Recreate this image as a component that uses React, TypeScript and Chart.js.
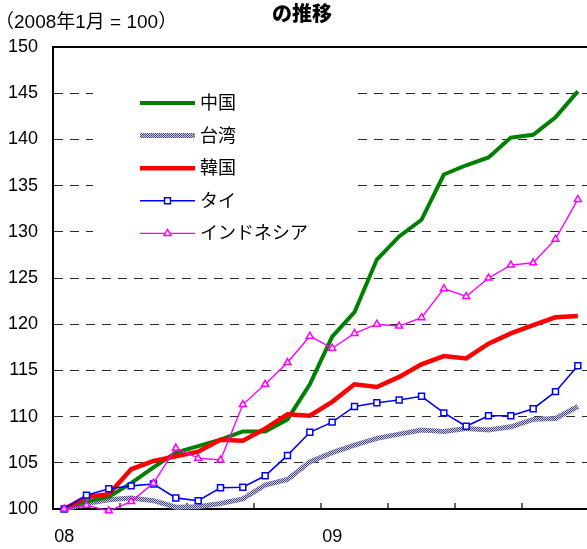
import React, { useEffect, useRef } from 'react';
import { Chart, registerables } from 'chart.js';

Chart.register(...registerables);

const months = [
  '2008/01', '2008/02', '2008/03', '2008/04', '2008/05', '2008/06',
  '2008/07', '2008/08', '2008/09', '2008/10', '2008/11', '2008/12',
  '2009/01', '2009/02', '2009/03', '2009/04', '2009/05', '2009/06',
  '2009/07', '2009/08', '2009/09', '2009/10', '2009/11', '2009/12',
];
const xTickLabels = ['08', '', '', '', '', '', '', '', '', '', '', '', '09', '', '', '', '', '', '', '', '', '', '', ''];
const yMin = 100;
const yMax = 150;
const yStep = 5;

const titleText = 'の推移';
const subtitleText = '（2008年1月 = 100）';
const seriesNames = ['中国', '台湾', '韓国', 'タイ', 'インドネシア'];

const china = [100, 100.8, 101.3, 102.8, 104.5, 106.1, 106.8, 107.5, 108.4, 108.4, 109.7, 113.5, 118.65, 121.3, 127.0, 129.5, 131.3, 136.2, 137.2, 138.05, 140.2, 140.5, 142.4, 145.2];
const taiwan = [100, 100.6, 101.0, 101.2, 100.9, 100.2, 100.25, 100.6, 101.1, 102.6, 103.2, 105.1, 106.1, 106.9, 107.65, 108.1, 108.55, 108.4, 108.7, 108.55, 108.9, 109.7, 109.8, 111.1];
const korea = [100, 101.3, 101.6, 104.3, 105.2, 105.7, 106.2, 107.5, 107.4, 108.7, 110.25, 110.1, 111.6, 113.5, 113.2, 114.3, 115.65, 116.55, 116.3, 117.9, 119.0, 119.9, 120.75, 120.9];
const thailand = [100, 101.5, 102.2, 102.5, 102.7, 101.2, 100.9, 102.3, 102.35, 103.6, 105.8, 108.3, 109.4, 111.1, 111.5, 111.8, 112.2, 110.4, 108.95, 110.1, 110.1, 110.85, 112.7, 115.5];
const indonesia = [100, 100.4, 99.8, 100.8, 102.8, 106.6, 105.5, 105.3, 111.3, 113.5, 115.85, 118.7, 117.4, 119.0, 120.0, 119.8, 120.7, 123.85, 123.0, 125.0, 126.4, 126.65, 129.2, 133.5];

const FONT = '"Liberation Sans", Arial, "Noto Sans CJK JP", sans-serif';
const CJK = '"Liberation Sans", "Noto Sans CJK JP", sans-serif';

function makePattern(ctx: CanvasRenderingContext2D) {
  const pc = document.createElement('canvas');
  pc.width = 2;
  pc.height = 2;
  const p = pc.getContext('2d')!;
  p.fillStyle = '#cdcde4';
  p.fillRect(0, 0, 2, 2);
  p.fillStyle = '#464684';
  p.fillRect(0, 0, 1, 1);
  p.fillRect(1, 1, 1, 1);
  return ctx.createPattern(pc, 'repeat') as CanvasPattern;
}

function drawMarker(ctx: CanvasRenderingContext2D, style: string, x: number, y: number, r: number, color: string) {
  ctx.save();
  ctx.strokeStyle = color;
  ctx.fillStyle = '#fff';
  ctx.lineWidth = 1.5;
  ctx.beginPath();
  if (style === 'rect') {
    const s = Math.SQRT1_2 * r;
    ctx.rect(x - s, y - s, 2 * s, 2 * s);
  } else if (style === 'triangle') {
    ctx.moveTo(x, y - r);
    ctx.lineTo(x - r * 0.866, y + r * 0.5);
    ctx.lineTo(x + r * 0.866, y + r * 0.5);
    ctx.closePath();
  }
  ctx.fill();
  ctx.stroke();
  ctx.restore();
}

export default function App() {
  const ref = useRef<HTMLCanvasElement | null>(null);

  useEffect(() => {
    const canvas = ref.current!;
    const ctx0 = canvas.getContext('2d')!;
    const pattern = makePattern(ctx0);

    const legendItems = [
      { label: seriesNames[0], color: '#008000', width: 4, marker: '' },
      { label: seriesNames[1], color: pattern as any, width: 5, marker: '' },
      { label: seriesNames[2], color: '#ff0000', width: 4.5, marker: '' },
      { label: seriesNames[3], color: '#0000ff', width: 1.6, marker: 'rect' },
      { label: seriesNames[4], color: '#ff00ff', width: 1.4, marker: 'triangle' },
    ];

    const decor = {
      id: 'decor',
      beforeDatasetsDraw(chart: any) {
        const { ctx, chartArea } = chart;
        ctx.save();
        ctx.fillStyle = '#fff';
        ctx.fillRect(chartArea.left + 40, chartArea.top + 30, 259, 167);
        ctx.strokeStyle = '#000';
        ctx.lineWidth = 2;
        ctx.beginPath();
        ctx.moveTo(chartArea.left, chartArea.top);
        ctx.lineTo(chartArea.right, chartArea.top);
        ctx.stroke();
        const xs = chart.scales.x;
        ctx.lineWidth = 1.2;
        for (let k = 3; k < months.length; k += 3) {
          const xp = (xs.getPixelForValue(k - 1) + xs.getPixelForValue(k)) / 2;
          ctx.beginPath();
          ctx.moveTo(xp, chartArea.bottom);
          ctx.lineTo(xp, chartArea.bottom - 6);
          ctx.stroke();
        }
        ctx.restore();
      },
      afterDraw(chart: any) {
        const { ctx, chartArea } = chart;
        ctx.save();
        ctx.fillStyle = '#000';
        ctx.textBaseline = 'middle';
        ctx.textAlign = 'center';
        ctx.font = `900 20px "Noto Sans CJK JP", sans-serif`;
        ctx.fillText(titleText, 302, 13);
        ctx.textAlign = 'left';
        ctx.font = `19px ${CJK}`;
        ctx.fillText(subtitleText, -5, 23);
        const x0 = chartArea.left + 87;
        const x1 = chartArea.left + 142;
        const y0 = chartArea.top + 56;
        const dy = 32.6;
        legendItems.forEach((it, i) => {
          const y = y0 + i * dy;
          ctx.save();
          ctx.strokeStyle = it.color;
          ctx.lineWidth = it.width;
          ctx.lineCap = 'butt';
          ctx.beginPath();
          ctx.moveTo(x0, y);
          ctx.lineTo(x1, y);
          ctx.stroke();
          ctx.restore();
          if (it.marker) drawMarker(ctx, it.marker, (x0 + x1) / 2, y, it.marker === 'rect' ? 4.2 : 4, it.color);
          ctx.fillStyle = '#000';
          ctx.font = `18px ${CJK}`;
          ctx.textAlign = 'left';
          ctx.textBaseline = 'middle';
          ctx.fillText(it.label, x1 + 5, y + 1);
        });
        ctx.restore();
      },
    };

    const chart = new Chart(canvas, {
      type: 'line',
      data: {
        labels: months,
        datasets: [
          {
            label: seriesNames[4], data: indonesia, borderColor: '#ff00ff', backgroundColor: '#fff',
            borderWidth: 1.4, pointStyle: 'triangle', pointRadius: 4, pointBorderWidth: 1.5,
            tension: 0, order: 0, clip: false,
          },
          {
            label: seriesNames[3], data: thailand, borderColor: '#0000ff', backgroundColor: '#fff',
            borderWidth: 1.6, pointStyle: 'rect', pointRadius: 4.2, pointBorderWidth: 1.5,
            tension: 0, order: 1, clip: false,
          },
          {
            label: seriesNames[2], data: korea, borderColor: '#ff0000',
            borderWidth: 4.5, pointRadius: 0, tension: 0, order: 2, clip: false,
          },
          {
            label: seriesNames[0], data: china, borderColor: '#008000',
            borderWidth: 4, pointRadius: 0, tension: 0, order: 3, clip: false,
          },
          {
            label: seriesNames[1], data: taiwan, borderColor: pattern as any,
            borderWidth: 5, pointRadius: 0, tension: 0, order: 4, clip: false,
          },
        ],
      },
      options: {
        responsive: false,
        animation: false,
        devicePixelRatio: 1,
        layout: { padding: { top: 47, right: 11, left: 0, bottom: 0 } },
        plugins: { legend: { display: false }, tooltip: { enabled: false }, title: { display: false } },
        scales: {
          x: {
            type: 'category',
            offset: true,
            grid: { display: false, drawTicks: false },
            border: { display: true, color: '#000', width: 2 },
            ticks: {
              autoSkip: false,
              maxRotation: 0,
              padding: 17,
              color: '#000',
              font: { family: FONT, size: 18 },
              callback: (_v: any, i: number) => xTickLabels[i],
            },
            afterFit: (s: any) => { s.height = 40; },
          },
          y: {
            min: yMin,
            max: yMax,
            grid: {
              drawTicks: false,
              color: (c: any) => (c.tick && (c.tick.value === yMin || c.tick.value === yMax) ? 'rgba(0,0,0,0)' : '#2a2a2a'),
              lineWidth: 1,
            },
            border: { display: true, color: '#000', width: 2, dash: [9, 7] },
            ticks: {
              stepSize: yStep,
              padding: 15,
              color: '#000',
              font: { family: FONT, size: 18 },
            },
            afterFit: (s: any) => { s.width = 53; },
          },
        },
      },
      plugins: [decor],
    });

    return () => chart.destroy();
  }, []);

  return (
    <div style={{ position: 'fixed', left: 0, top: 0, width: 587, height: 549, overflow: 'hidden', background: '#fff' }}>
      <canvas ref={ref} width={600} height={549} style={{ display: 'block' }} />
    </div>
  );
}
